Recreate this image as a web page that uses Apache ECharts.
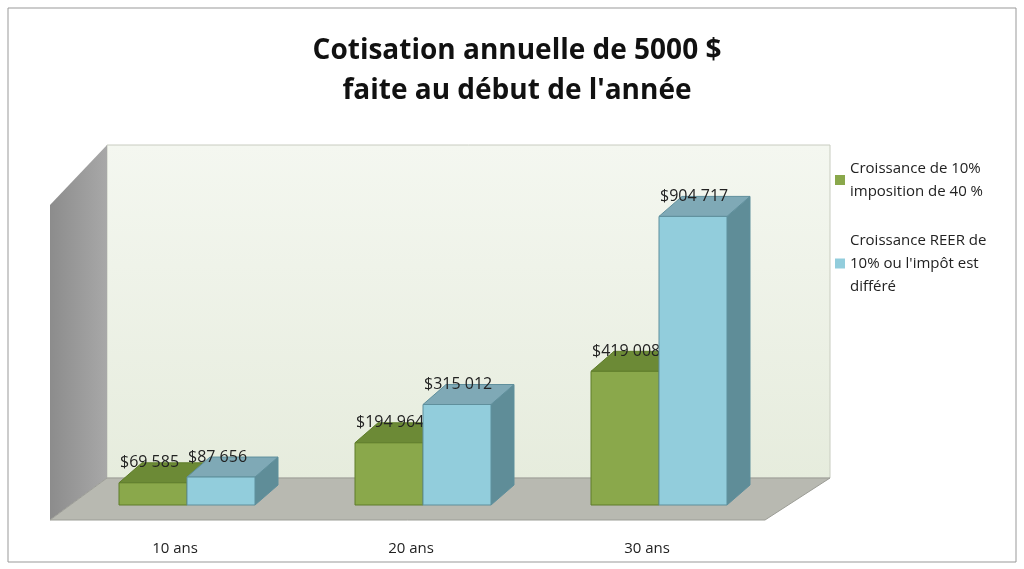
<!DOCTYPE html>
<html lang="fr">
<head>
<meta charset="UTF-8">
<title>Cotisation annuelle</title>
<script src="https://cdn.jsdelivr.net/npm/echarts@6/dist/echarts.min.js"></script>
<style>html,body{margin:0;padding:0;background:#fff}</style>
</head>
<body>
<div id="main" style="width:1024px;height:569px"></div>
<script>
var categories = ['10 ans', '20 ans', '30 ans'];
var imposable = [69585, 194964, 419008];
var reer = [87656, 315012, 904717];
var seriesNames = ['Croissance de 10%\nimposition de 40 %', "Croissance REER de\n10% ou l'impôt est\ndifféré"];

function fmt(v) {
    return '$' + String(v).replace(/\B(?=(\d{3})+(?!\d))/g, ' ');
}

// boite 3D : decalage en pixels, couleurs des faces
function bar3d(offset, front, top, side, stroke) {
    return function (params, api) {
        var c = api.coord([api.value(0), api.value(1)]);
        var b = api.coord([api.value(0), 0]);
        var x0 = c[0] + offset, x1 = x0 + 68, y = c[1], y0 = b[1];
        var dx = 23, dy = -20;
        return {
            type: 'group',
            children: [
                { type: 'polygon', shape: { points: [[x1, y], [x1 + dx, y + dy], [x1 + dx, y0 + dy], [x1, y0]] },
                  style: { fill: side, stroke: stroke, lineWidth: 1 } },
                { type: 'polygon', shape: { points: [[x0, y], [x0 + dx, y + dy], [x1 + dx, y + dy], [x1, y]] },
                  style: { fill: top, stroke: stroke, lineWidth: 1 } },
                { type: 'rect', shape: { x: x0, y: y, width: 68, height: y0 - y },
                  style: { fill: front, stroke: stroke, lineWidth: 1 } },
                { type: 'text', style: { x: x0 + 1, y: y - 20, text: fmt(api.value(1)), fill: '#222',
                  font: '16px "Open Sans", sans-serif', verticalAlign: 'middle' } }
            ]
        };
    };
}

var myChart = echarts.init(document.getElementById('main'));
var option = {
    backgroundColor: '#fff',
    title: {
        text: "Cotisation annuelle de 5000 $\nfaite au début de l'année",
        left: 512, top: 26, textAlign: 'center',
        textStyle: { fontFamily: 'Open Sans', fontSize: 28, fontWeight: 'bold', color: '#111', lineHeight: 40 }
    },
    legend: {
        orient: 'vertical', left: 830, top: 152, itemWidth: 10, itemHeight: 10, itemGap: 26,
        icon: 'rect',
        textStyle: { fontFamily: 'Open Sans', fontSize: 15, lineHeight: 23, color: '#222' },
        data: [
            { name: seriesNames[0], itemStyle: { color: '#8aa84b', borderColor: '#5f7d2b' } },
            { name: seriesNames[1], itemStyle: { color: '#92cddc', borderColor: '#5f8f9c' } }
        ]
    },
    graphic: [
        { type: 'rect', shape: { x: 8, y: 8, width: 1008, height: 554 }, style: { fill: 'none', stroke: '#999', lineWidth: 1 }, z: -10 },
        { type: 'polygon', shape: { points: [[107, 145], [830, 145], [830, 478], [107, 478]] },
          style: { fill: { type: 'linear', x: 0, y: 0, x2: 0, y2: 1, colorStops: [{ offset: 0, color: '#f4f7f0' }, { offset: 1, color: '#e6ecdd' }] }, stroke: '#c8ccc0' }, z: -5 },
        { type: 'polygon', shape: { points: [[50, 205], [107, 145], [107, 478], [50, 520]] },
          style: { fill: { type: 'linear', x: 0, y: 0, x2: 1, y2: 0, colorStops: [{ offset: 0, color: '#8c8c8c' }, { offset: 1, color: '#a8a8a8' }] } }, z: -5 },
        { type: 'polygon', shape: { points: [[50, 520], [765, 520], [830, 478], [107, 478]] },
          style: { fill: '#b8b9b1', stroke: '#9c9d96' }, z: -5 }
    ],
    grid: { left: 57, right: 1024 - 765, top: 186, bottom: 64 },
    xAxis: {
        type: 'category', data: categories,
        axisLine: { show: false }, axisTick: { show: false },
        axisLabel: { margin: 36, fontFamily: 'Open Sans', fontSize: 15, color: '#222' }
    },
    yAxis: { type: 'value', min: 0, max: 1000000, show: false, splitLine: { show: false } },
    series: [
        { name: seriesNames[0], type: 'custom', data: imposable.map(function (v, i) { return [i, v]; }),
          renderItem: bar3d(-56, '#8aa84b', '#6c8a36', '#5b7a2c', '#5f7d2b'), color: '#8aa84b' },
        { name: seriesNames[1], type: 'custom', data: reer.map(function (v, i) { return [i, v]; }),
          renderItem: bar3d(12, '#92cddc', '#7fa9b6', '#5f8d98', '#5f8f9c'), color: '#92cddc' }
    ]
};
myChart.setOption(option);
</script>
</body>
</html>
